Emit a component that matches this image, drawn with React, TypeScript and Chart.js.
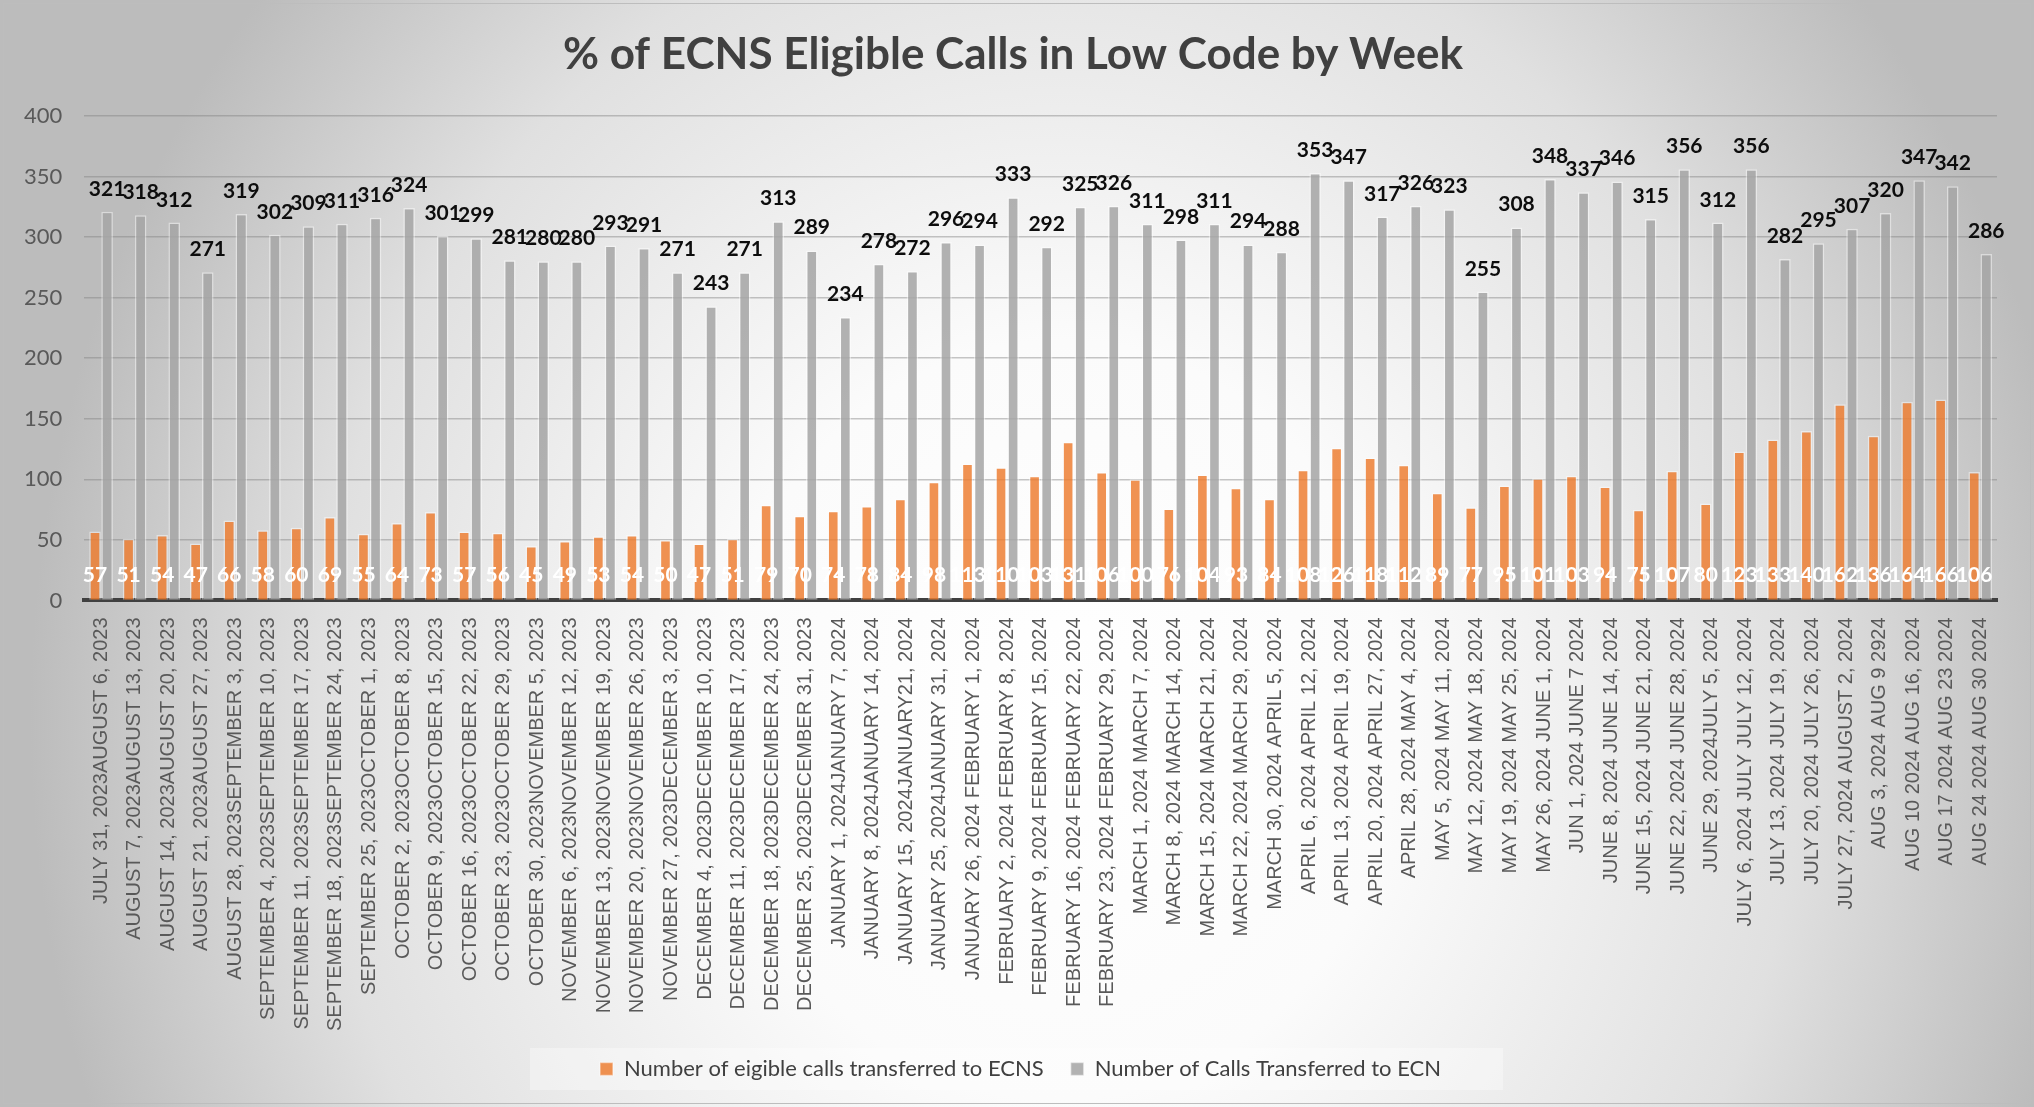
import React, { useEffect, useRef } from "react";
import { Chart, registerables } from "chart.js";

Chart.register(...registerables);

const weekLabels: string[] = [
  "JULY 31, 2023AUGUST 6, 2023",
  "AUGUST 7, 2023AUGUST 13, 2023",
  "AUGUST 14, 2023AUGUST 20, 2023",
  "AUGUST 21, 2023AUGUST 27, 2023",
  "AUGUST 28, 2023SEPTEMBER 3, 2023",
  "SEPTEMBER 4, 2023SEPTEMBER 10, 2023",
  "SEPTEMBER 11, 2023SEPTEMBER 17, 2023",
  "SEPTEMBER 18, 2023SEPTEMBER 24, 2023",
  "SEPTEMBER 25, 2023OCTOBER 1, 2023",
  "OCTOBER 2, 2023OCTOBER 8, 2023",
  "OCTOBER 9, 2023OCTOBER 15, 2023",
  "OCTOBER 16, 2023OCTOBER 22, 2023",
  "OCTOBER 23, 2023OCTOBER 29, 2023",
  "OCTOBER 30, 2023NOVEMBER 5, 2023",
  "NOVEMBER 6, 2023NOVEMBER 12, 2023",
  "NOVEMBER 13, 2023NOVEMBER 19, 2023",
  "NOVEMBER 20, 2023NOVEMBER 26, 2023",
  "NOVEMBER 27, 2023DECEMBER 3, 2023",
  "DECEMBER 4, 2023DECEMBER 10, 2023",
  "DECEMBER 11, 2023DECEMBER 17, 2023",
  "DECEMBER 18, 2023DECEMBER 24, 2023",
  "DECEMBER 25, 2023DECEMBER 31, 2023",
  "JANUARY 1, 2024JANUARY 7, 2024",
  "JANUARY 8, 2024JANUARY 14, 2024",
  "JANUARY 15, 2024JANUARY21, 2024",
  "JANUARY 25, 2024JANUARY 31, 2024",
  "JANUARY 26, 2024 FEBRUARY 1, 2024",
  "FEBRUARY 2, 2024 FEBRUARY 8, 2024",
  "FEBRUARY 9, 2024 FEBRUARY 15, 2024",
  "FEBRUARY 16, 2024 FEBRUARY 22, 2024",
  "FEBRUARY 23, 2024 FEBRUARY 29, 2024",
  "MARCH 1, 2024 MARCH 7, 2024",
  "MARCH 8, 2024 MARCH 14, 2024",
  "MARCH 15, 2024 MARCH 21, 2024",
  "MARCH 22, 2024 MARCH 29, 2024",
  "MARCH 30, 2024 APRIL 5, 2024",
  "APRIL 6, 2024 APRIL 12, 2024",
  "APRIL 13, 2024 APRIL 19, 2024",
  "APRIL 20, 2024 APRIL 27, 2024",
  "APRIL 28, 2024 MAY 4, 2024",
  "MAY 5, 2024 MAY 11, 2024",
  "MAY 12, 2024 MAY 18, 2024",
  "MAY 19, 2024 MAY 25, 2024",
  "MAY 26, 2024 JUNE 1, 2024",
  "JUN 1, 2024 JUNE 7 2024",
  "JUNE 8, 2024 JUNE 14, 2024",
  "JUNE 15, 2024 JUNE 21, 2024",
  "JUNE 22, 2024 JUNE 28, 2024",
  "JUNE 29, 2024JULY 5, 2024",
  "JULY 6, 2024 JULY JULY 12, 2024",
  "JULY 13, 2024 JULY 19, 2024",
  "JULY 20, 2024 JULY 26, 2024",
  "JULY 27, 2024 AUGUST 2, 2024",
  "AUG 3, 2024 AUG 9 2924",
  "AUG 10 2024 AUG 16, 2024",
  "AUG 17 2024 AUG 23 2024",
  "AUG 24 2024 AUG 30 2024",
];

const eligibleToECNS: number[] = [
  57, 51, 54, 47, 66, 58, 60, 69, 55, 64, 73, 57, 56, 45, 49, 53, 54, 50, 47, 51,
  79, 70, 74, 78, 84, 98, 113, 110, 103, 131, 106, 100, 76, 104, 93, 84, 108, 126,
  118, 112, 89, 77, 95, 101, 103, 94, 75, 107, 80, 123, 133, 140, 162, 136, 164,
  166, 106,
];

const transferredToECN: number[] = [
  321, 318, 312, 271, 319, 302, 309, 311, 316, 324, 301, 299, 281, 280, 280, 293,
  291, 271, 243, 271, 313, 289, 234, 278, 272, 296, 294, 333, 292, 325, 326, 311,
  298, 311, 294, 288, 353, 347, 317, 326, 323, 255, 308, 348, 337, 346, 315, 356,
  312, 356, 282, 295, 307, 320, 347, 342, 286,
];

const yTicks = { min: 0, max: 400, step: 50 };

const seriesNames = [
  "Number of eigible calls transferred to ECNS",
  "Number of Calls Transferred to ECN",
];

const W = 2034;
const H = 1107;
const CALIBRI_LIKE = "Lato, 'Open Sans', sans-serif";
const ARIAL_LIKE = "'Liberation Sans', Arial, sans-serif";

const backgroundPlugin = {
  id: "bgPlugin",
  afterLayout(chart: any) {
    // nudge title and legend centres to where the original places them
    if (chart.titleBlock) chart.titleBlock.left += 27;
    if (chart.legend) chart.legend.left += 42;
  },
  beforeDraw(chart: any) {
    const { ctx, width, height } = chart;
    ctx.save();
    ctx.fillStyle = "#ffffff";
    ctx.fillRect(0, 0, width, height);
    const cx = 1060, cy = 720, rx = 1030, ry = 1150;
    ctx.translate(cx, cy);
    ctx.scale(1, ry / rx);
    const g = ctx.createRadialGradient(0, 0, 0, 0, 0, rx);
    g.addColorStop(0, "#ffffff");
    g.addColorStop(0.33, "#fbfbfb");
    g.addColorStop(0.72, "#e0e0e0");
    g.addColorStop(1, "#bcbcbc");
    ctx.fillStyle = g;
    ctx.fillRect(-cx, -cy * (rx / ry), width, height * (rx / ry));
    ctx.restore();
    ctx.save();
    ctx.strokeStyle = "#bdbdbd";
    ctx.lineWidth = 1;
    ctx.strokeRect(3.5, 3.5, width - 7, height - 7);
    const legend = chart.legend;
    if (legend && legend.legendHitBoxes && legend.legendHitBoxes.length) {
      const hb = legend.legendHitBoxes;
      const first = hb[0];
      const last = hb[hb.length - 1];
      const midY = first.top + first.height / 2;
      const left = first.left - 70;
      const right = last.left + last.width + 62;
      ctx.fillStyle = "rgba(255,255,255,0.35)";
      ctx.fillRect(left, midY - 21, right - left, 42);
    }
    ctx.restore();
  },
};

const labelPlugin = {
  id: "valueLabels",
  afterDatasetsDraw(chart: any) {
    const { ctx } = chart;
    const yScale = chart.scales.y;
    const zeroY = yScale.getPixelForValue(0);
    ctx.save();
    ctx.textAlign = "center";
    ctx.textBaseline = "alphabetic";
    ctx.font = `bold 21px ${CALIBRI_LIKE}`;
    chart.data.datasets.forEach((ds: any, di: number) => {
      const meta = chart.getDatasetMeta(di);
      meta.data.forEach((bar: any, i: number) => {
        const v = ds.data[i];
        if (di === 0) {
          ctx.fillStyle = "#ffffff";
          ctx.fillText(String(v), bar.x, zeroY - 18);
        } else {
          ctx.fillStyle = "#0d0d0d";
          ctx.fillText(String(v), bar.x, bar.y - 16);
        }
      });
    });
    ctx.restore();
  },
};

export default function App() {
  const ref = useRef<HTMLCanvasElement | null>(null);

  useEffect(() => {
    if (!ref.current) return;
    const chart = new Chart(ref.current, {
      type: "bar",
      data: {
        labels: weekLabels,
        datasets: [
          {
            label: seriesNames[0],
            data: eligibleToECNS,
            backgroundColor: "rgba(237,125,49,0.84)",
            borderColor: "rgba(255,255,255,0.45)",
            borderWidth: 1.5,
            categoryPercentage: 0.72,
            barPercentage: 0.96,
          },
          {
            label: seriesNames[1],
            data: transferredToECN,
            backgroundColor: "rgba(165,165,165,0.86)",
            borderColor: "rgba(255,255,255,0.45)",
            borderWidth: 1.5,
            categoryPercentage: 0.72,
            barPercentage: 0.96,
          },
        ],
      },
      options: {
        responsive: false,
        animation: false,
        devicePixelRatio: 1,
        layout: { padding: { left: 2, right: 37, top: 0, bottom: 17 } },
        plugins: {
          title: {
            display: true,
            text: "% of ECNS Eligible Calls in Low Code by Week",
            color: "#404040",
            font: { family: CALIBRI_LIKE, size: 44, weight: "bold", lineHeight: 1.2 },
            padding: { top: 28, bottom: 35.2 },
          },
          legend: {
            display: true,
            position: "bottom",
            labels: {
              color: "#404040",
              font: { family: CALIBRI_LIKE, size: 22 },
              boxWidth: 13,
              boxHeight: 13,
              padding: 27,
            },
          },
          tooltip: { enabled: false },
        },
        scales: {
          x: {
            z: 1,
            grid: { display: false, drawTicks: true, tickLength: 17 },
            border: { display: true, color: "#404040", width: 4 },
            ticks: {
              autoSkip: false,
              maxRotation: 90,
              minRotation: 90,
              padding: 0,
              color: "#595959",
              font: { family: ARIAL_LIKE, size: 20 },
            },
          },
          y: {
            min: yTicks.min,
            max: yTicks.max,
            grid: {
              color: "rgba(128,128,128,0.45)",
              lineWidth: 1.5,
              drawTicks: false,
            },
            border: { display: false },
            ticks: {
              stepSize: yTicks.step,
              padding: 22,
              color: "#595959",
              font: { family: CALIBRI_LIKE, size: 22 },
            },
          },
        },
      },
      plugins: [backgroundPlugin, labelPlugin],
    });
    return () => chart.destroy();
  }, []);

  return (
    <div style={{ position: "absolute", left: 0, top: 0, width: W, height: H }}>
      <canvas ref={ref} width={W} height={H} style={{ display: "block" }} />
    </div>
  );
}
